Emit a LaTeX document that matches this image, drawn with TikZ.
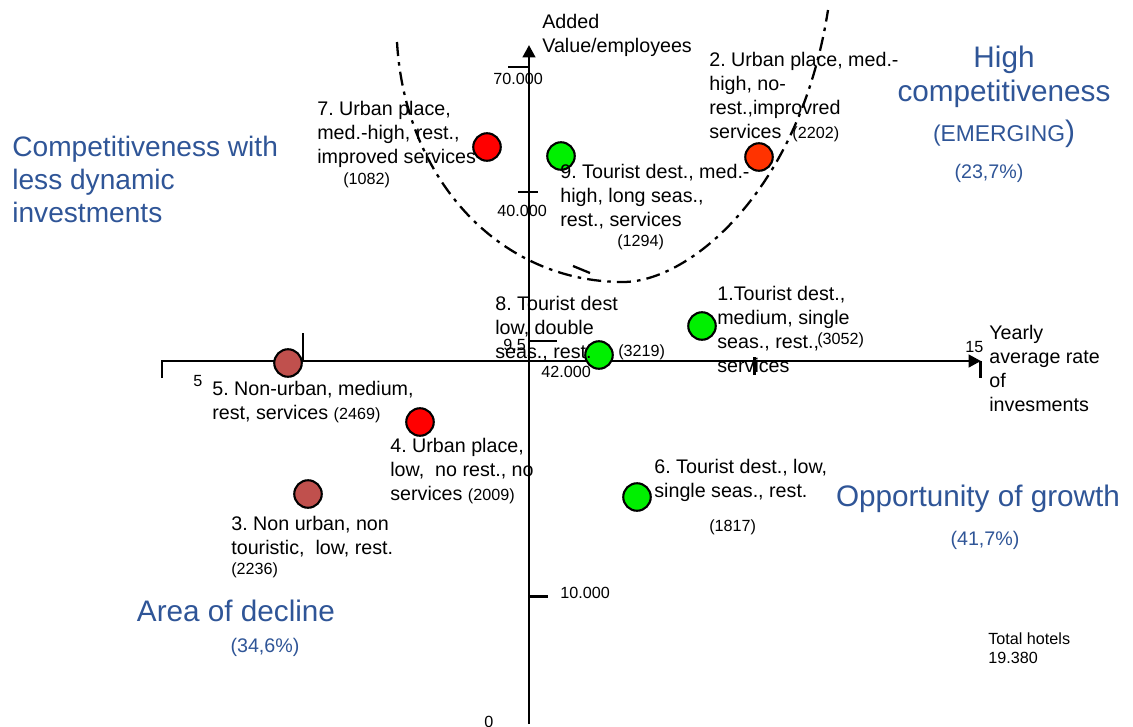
\documentclass[tikz,border=0pt]{standalone}
\usepackage{fontspec}
\setmainfont{Liberation Sans}
\usetikzlibrary{arrows.meta}
\definecolor{qblue}{RGB}{47,85,151}
\definecolor{qgreen}{RGB}{0,240,0}
\definecolor{qred}{RGB}{255,0,0}
\definecolor{qorange}{RGB}{255,51,0}
\definecolor{qbrown}{RGB}{192,80,77}
\newcommand{\smallnum}[1]{{\fontsize{9.2}{11}\selectfont #1}}
\frenchspacing
\begin{document}
\begin{tikzpicture}[x=0.02cm,y=-0.02cm,
  txt/.style={anchor=north west,inner sep=0pt,align=left,font=\fontsize{11.2}{13.66}\selectfont},
  sm/.style={anchor=north west,inner sep=0pt,font=\fontsize{9.2}{11}\selectfont},
  big/.style={anchor=north,inner sep=0pt,align=center,text=qblue,font=\fontsize{16.9}{19.35}\selectfont},
  pct/.style={anchor=north,inner sep=0pt,text=qblue,font=\fontsize{11.2}{13}\selectfont},
  dot/.style={circle,draw=black,line width=1.2pt,minimum size=0.55cm,inner sep=0pt},
  axis/.style={line width=1.7pt},
  curve/.style={line width=1.3pt,dash pattern=on 8pt off 3.5pt on 2pt off 3.5pt},
]
\useasboundingbox (0,0) rectangle (1133,727);
% axes
\coordinate (ybot) at (529,724);
\coordinate (ytop) at (529,45);
\coordinate (xcorner) at (162,378);
\coordinate (xl) at (162,361);
\coordinate (xr) at (981,361);
\draw[axis,-{Triangle[length=7pt,width=7pt]}] (ybot) -- (ytop);
\draw[axis,-{Triangle[length=7pt,width=7pt]}] (xcorner) -- (xl) -- (xr);
% ticks
\draw[axis] (508,67) -- (529,67);
\draw[axis] (518,192) -- (538,192);
\draw[axis] (529,341) -- (557,341);
\draw[axis] (529,596) -- (548,596);
\draw[axis] (303,333) -- (303,361);
\draw[axis] (754,357) -- (754,375);
\draw[axis] (980,361) -- (980,378);
% curve
\coordinate (cA) at (397,42);
\coordinate (cB) at (623,282);
\coordinate (cC) at (828,10);
\draw[curve] (cA) .. controls (405,180) and (500,282) .. (cB) .. controls (690,282) and (800,190) .. (cC);
\coordinate (mA) at (573,266);
\coordinate (mB) at (590,273);
\draw[line width=1.3pt] (mA) -- (mB);
% tick labels
\node[sm] (t70) at (493,73) {70.000};
\node[sm] (t40) at (497,205) {40.000};
\node[sm] (t95) at (503,339) {9,5};
\node[sm] (t42) at (541,366) {42.000};
\node[sm] (t10) at (560,587) {10.000};
\node[sm] (t0) at (484,716) {0};
\node[sm] (t5) at (193,375) {5};
\node[sm] (t15) at (965,341) {15};
% axis titles
\node[txt] (ytitle) at (542,14) {Added\\Value/employees};
\node[txt] (xtitle) at (989,325) {Yearly\\average rate\\of\\invesments};
% dots
\node[dot,fill=qred] (p7) at (487,147) {};
\node[dot,fill=qgreen] (p9) at (561,156) {};
\node[dot,fill=qorange] (p2) at (759,157) {};
\node[dot,fill=qgreen] (p8) at (599,355) {};
\node[dot,fill=qgreen] (p1) at (702,326) {};
\node[dot,fill=qbrown] (p5) at (288,363) {};
\node[dot,fill=qred] (p4) at (420,422) {};
\node[dot,fill=qbrown] (p3) at (308,494) {};
\node[dot,fill=qgreen] (p6) at (637,497) {};
% labels
\node[txt] (l2) at (709,52) {2. Urban place, med.-\\high, no-\\rest.,improvred\\services\ \ \smallnum{(2202)}};
\node[txt] (l7) at (317,101) {7. Urban place,\\med.-high, rest.,\\improved services};
\node[sm] (n7) at (343,172) {(1082)};
\node[txt] (l9) at (560,164) {9. Tourist dest., med.-\\high, long seas.,\\rest., services};
\node[sm] (n9) at (617,234) {(1294)};
\node[txt] (l8) at (495,296) {8. Tourist dest\\low, double\\seas., rest.};
\node[sm] (n8) at (618,344) {(3219)};
\node[txt] (l1) at (717,286) {1.Tourist dest.,\\medium, single\\seas., rest.,\\services};
\node[sm] (n1) at (817,332) {(3052)};
\node[txt] (l5) at (212,381) {5. Non-urban, medium,\\rest, services \smallnum{(2469)}};
\node[txt] (l4) at (390,438) {4. Urban place,\\low,\ \ no rest., no\\services \smallnum{(2009)}};
\node[txt] (l3) at (231,516) {3. Non urban, non\\touristic,\ \ low, rest.};
\node[sm] (n3) at (231,562) {(2236)};
\node[txt] (l6) at (654,459) {6. Tourist dest., low,\\single seas., rest.};
\node[sm] (n6) at (709,519) {(1817)};
% quadrant titles
\node[anchor=north west,inner sep=0pt,align=left,text=qblue,font=\fontsize{16}{18.8}\selectfont] (qtl) at (12,136) {Competitiveness with\\less dynamic\\investments};
\node[big] (qtr) at (1004,46) {High\\competitiveness};
\node[anchor=north,inner sep=0pt,text=qblue,font=\fontsize{13}{15}\selectfont] (qem) at (1004,120) {(EMERGING{\fontsize{16.9}{19}\selectfont)}};
\node[pct] (ptr) at (989,164) {(23,7\%)};
\node[big] (qbr) at (978,485) {Opportunity of growth};
\node[pct] (pbr) at (985,531) {(41,7\%)};
\node[big] (qbl) at (236,600) {Area of decline};
\node[pct] (pbl) at (265,638) {(34,6\%)};
\node[anchor=north west,inner sep=0pt,align=left,font=\fontsize{9.2}{10.8}\selectfont] (tot) at (988,632) {Total hotels\\19.380};
\end{tikzpicture}
\end{document}
